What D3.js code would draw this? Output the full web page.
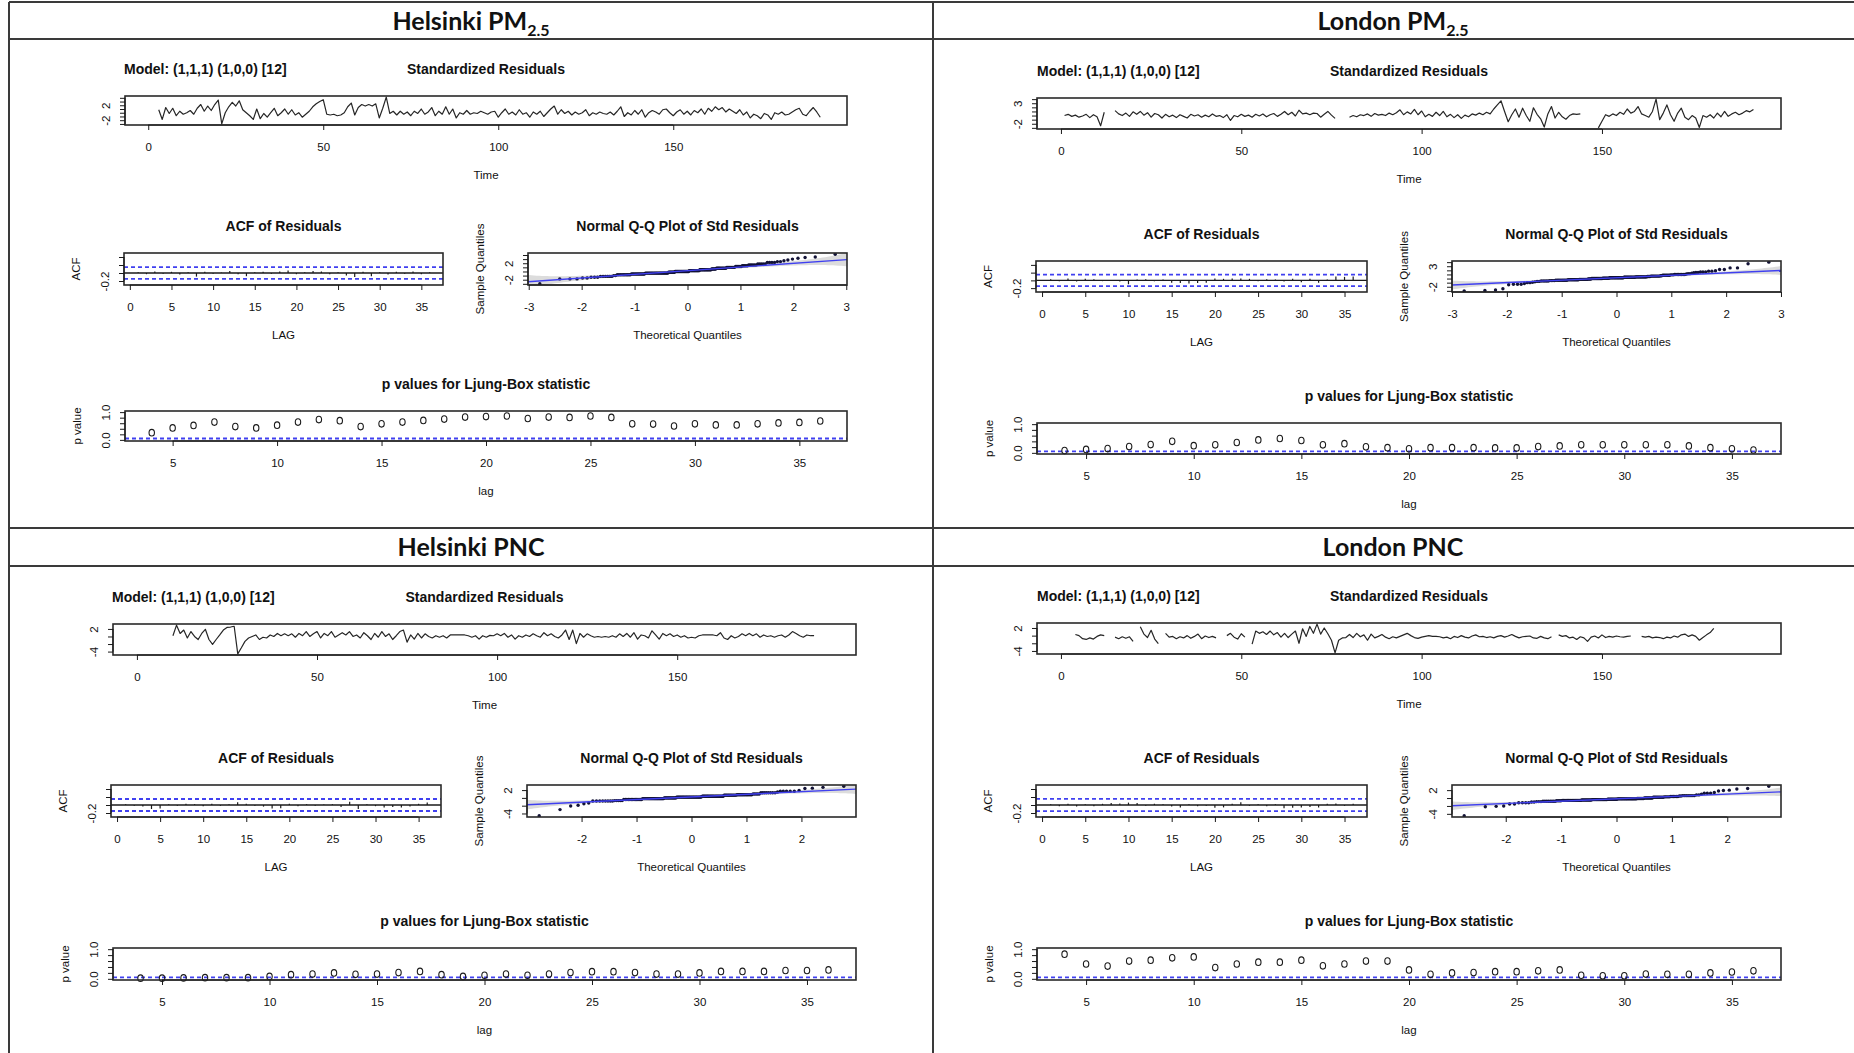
<!DOCTYPE html>
<html>
<head>
<meta charset="utf-8">
<script src="https://cdn.jsdelivr.net/npm/d3@7"></script>
<style>
  body { margin: 0; background: #fff; }
  svg text { font-family: "Liberation Sans", Arial, sans-serif; fill: #111; }
  .hdr { font-family: Lato, "Noto Sans", sans-serif; font-weight: 700; }
</style>
</head>
<body>
<svg id="chart" width="1854" height="1053"></svg>
<script>
// ---------------- data ----------------
const seriesLength = 192;

// standardized residuals, index 0 = time 1 (null = missing)
const helPM25Resid = [null, null,
  0.8, -1.8, 1.4, -0.2, 1.2, -0.8, 0.4, -0.4, 0.0, 0.6,
  -0.4, 1.2, 2.2, 0.4, 1.8, 0.6, 2.2, 3.4, -3.0, 0.0,
  1.6, 2.8, 1.8, 3.2, 0.8, 0.0, -0.8, -1.8, 1.0, -1.6,
  -0.2, -1.2, 0.0, 1.2, -0.8, 0.0, 1.0, -0.4, 0.8, -0.6,
  0.0, -1.2, -0.4, 0.4, 1.6, 2.4, 3.0, 3.5, -0.4, -0.6,
  -0.4, -0.8, -0.6, 0.0, 1.6, 2.6, -0.6, 1.4, 2.2, 1.8,
  2.2, 1.8, 2.4, -1.4, 1.2, 4.2, -0.2, 0.4, -0.6, 0.4,
  -0.4, 0.2, -0.8, 0.4, -0.2, 1.0, -0.4, 0.2, 1.4, -0.8,
  0.4, -0.4, 1.6, -0.4, 1.0, -1.4, 0.0, -0.4, 0.6, -0.4,
  0.0, -0.2, 0.4, 0.0, -0.4, 0.2, 0.4, -1.2, 0.0, 1.0,
  -0.4, 0.2, -0.6, 0.8, -0.4, 0.0, -1.2, 0.2, -0.4, 0.4,
  -1.0, 0.0, 1.0, 1.8, -0.4, 0.8, -0.2, 0.4, -0.6, 0.2,
  -0.4, 0.0, 0.8, -0.8, 0.0, -0.4, 0.2, -0.2, -0.4, 0.2,
  -0.6, 0.4, 1.6, -1.0, 0.0, -0.6, 0.6, -0.4, 0.8, -1.2,
  0.0, 0.6, 0.2, -0.4, 0.8, 1.0, 0.0, -0.8, 0.2, 0.8,
  -0.4, 0.4, -0.6, 0.6, 0.0, 1.0, -0.4, 1.2, 0.4, 1.6,
  0.8, 1.4, 0.2, 1.0, 0.4, -0.2, 0.8, -0.6, 0.2, -1.4,
  -0.4, -0.8, -1.6, -0.2, -0.6, -1.8, 0.0, -0.4, 0.2, -0.6,
  -0.4, 0.2, 0.8, 1.2, -0.4, -0.8, 0.4, 1.4, 0.2, -1.2];

const lonPM25Resid = [
  0.0, 0.3, -0.2, 0.1, -0.4, -0.1, 0.3, -0.5, 0.2, -0.3,
  -2.5, 0.8, null, null, 1.2, 0.4, 0.0, 0.6, -0.2, 0.9,
  0.3, 1.0, 0.1, 0.7, -0.4, 0.5, 0.2, -0.6, 0.3, -0.3,
  0.1, -0.5, 0.2, -0.2, -0.6, 0.3, -0.1, 0.2, -0.4, 0.1,
  -0.3, 0.4, -0.2, 0.0, -0.5, 0.2, -1.2, 0.0, -0.3, 0.3,
  -0.2, 0.1, -0.4, 0.3, -0.1, 0.4, -0.3, 0.2, 0.5, -0.2,
  0.3, 1.0, 0.2, 0.8, -0.1, 1.3, 0.4, 0.6, 0.2, 0.6,
  0.5, -0.4, 0.3, 1.0, 0.1, -0.7, null, null, null, -0.4,
  0.0, -0.3, 0.2, 0.0, 0.4, -0.2, 0.5, 0.1, 0.3, 0.0,
  0.6, 0.2, 0.7, 1.4, 0.2, 0.9, 0.4, 1.5, 0.2, 1.1,
  -0.3, 0.3, -0.2, 0.8, 0.0, 1.0, -0.3, 0.3, -0.5, 0.2,
  -0.7, 0.1, -0.3, 0.4, 0.1, 0.6, 0.2, 0.8, 0.4, 1.6,
  2.6, 3.6, 1.0, -1.5, 0.2, 1.6, -0.4, 1.8, 0.0, -1.4,
  1.9, 0.3, -0.8, -2.8, 0.4, 2.2, -0.6, 0.8, -0.3, -0.9,
  0.0, 0.4, 0.3, 0.4, null, null, null, null, -3.0, -1.4,
  0.2, -0.2, 0.4, 0.0, 0.8, 0.3, 1.6, 0.6, 1.0, 2.2,
  0.4, 0.0, -0.4, 1.0, 4.0, -1.0, 0.6, 2.6, 0.2, -1.4,
  0.6, 1.8, -0.4, -1.0, 0.0, -0.6, -2.9, 0.0, -0.4, 0.2,
  -0.6, 0.6, -0.3, 1.0, -0.2, 0.4, 0.8, 0.2, 0.6, 1.2,
  0.9, 1.5];

const helPNCResid = [null, null, null, null, null, null, null, null, null,
  0.2, 3.0, 0.8, 1.7, -0.4, 1.3, 0.0, -0.8, 0.8, 1.9,
  -0.8, -2.1, -0.8, 0.4, 1.7, 2.4, 2.5, 2.7, -4.6, -3.0,
  -1.3, -0.4, 0.0, 0.4, -0.8, -0.2, -0.4, 0.4, 0.0, 0.8,
  0.2, 0.7, 0.2, 0.7, -0.2, 0.8, 0.2, 1.3, 0.0, 0.7,
  1.3, -0.4, 0.8, 0.2, 1.3, -0.2, 0.4, 1.0, 0.4, 1.3,
  0.0, 0.4, -0.4, 1.0, 0.2, -0.8, 0.8, -0.2, 1.3, 0.0,
  0.7, -0.8, 0.2, 1.3, 1.7, -1.5, 0.4, -0.7, 0.8, -0.4,
  0.7, 0.0, -0.4, 0.2, -0.2, 0.2, -0.4, 0.4, 0.4, 0.4,
  0.4, 0.4, 0.2, -0.2, 0.2, -0.7, 0.2, -0.2, 0.3, 0.2,
  0.7, 0.2, 0.8, -0.2, 0.4, -0.7, 0.2, -0.2, 0.4, 0.0,
  0.7, 0.2, -0.2, 1.0, 0.2, 0.7, 0.0, -0.4, 0.4, 1.7,
  -0.8, 1.7, -1.9, 0.8, -0.2, 0.7, 0.2, -0.2, 0.0, -0.2,
  0.0, -0.2, 0.2, -0.2, 0.7, 0.0, 0.8, -0.2, 1.0, -0.7,
  0.4, 0.2, -0.4, 1.5, 0.4, -0.7, 0.8, 0.2, 0.7, 0.0,
  0.4, -0.2, 0.2, -0.4, -0.2, -0.4, 0.2, 0.4, 0.4, 0.4,
  0.4, 0.2, 1.0, -0.4, -0.8, 0.2, -0.4, 0.0, 0.7, 0.2,
  0.8, 0.2, 0.7, -0.2, 0.4, 0.0, 0.2, -0.2, 0.2, 0.4,
  -0.2, 0.4, 1.3, 0.8, 0.2, -0.2, 0.4, 0.2, 0.2];

const lonPNCResid = [null, null, null,
  0.3, 0.0, -0.8, -1.0, -0.6, -0.9, -0.2, 0.2, 0.0, null,
  null, -0.4, -0.8, -0.3, -0.7, -0.3, -1.5, null, 2.3, 0.4,
  -0.5, 1.4, -0.9, -2.1, null, 0.6, -0.4, -0.2, -0.8, -0.3,
  -0.6, 0.0, -0.7, -0.2, 0.4, -0.8, -0.1, -0.5, -0.2, -0.6,
  null, null, 0.0, 0.6, -0.4, -0.9, 0.5, -0.4, null, -2.2,
  1.2, 0.6, 1.0, 0.3, 1.2, 0.2, 0.8, -0.4, 0.6, -0.5,
  0.4, 1.2, -2.0, 1.8, -0.2, 2.4, 0.6, 3.0, 0.4, 2.0,
  0.5, -1.2, -4.5, -1.2, -0.6, -0.5, 0.3, -0.5, 0.6, -0.3,
  0.2, -1.2, 0.4, -0.6, -0.2, 0.3, -0.4, -0.8, -0.3, -0.6,
  -0.2, 0.2, 0.6, 0.0, -0.5, -0.7, -0.4, -0.2, 0.0, -0.2,
  -0.2, -0.3, -0.6, -0.4, -0.8, -0.2, -0.5, 0.0, -0.4, -0.6,
  -0.1, 0.2, -0.3, -0.2, -0.5, -0.3, -0.6, -0.2, 0.0, -0.4,
  -0.1, 0.3, -0.2, -0.6, -0.3, -0.2, -0.1, -0.6, -0.7, -0.2,
  -0.6, -0.8, -0.3, null, 0.2, -0.2, 0.0, -0.6, -0.4, -1.0,
  -0.3, -0.6, -1.5, -0.4, -0.1, -0.6, 0.2, -0.5, -0.2, -0.4,
  -0.1, -0.3, -0.4, -0.2, -0.1, null, null, -0.2, -0.4, -0.2,
  -0.6, -0.4, -0.5, -0.8, -0.4, -0.6, -0.1, -0.4, 0.2, 0.4,
  -0.2, 0.2, -0.2, -1.2, -0.5, 0.2, 0.8, 1.9];

// residual autocorrelations, lags 1..36
const acfLags = [1,2,3,4,5,6,7,8,9,10,11,12,13,14,15,16,17,18,19,20,21,22,23,24,25,26,27,28,29,30,31,32,33,34,35,36];
const helPM25Acf = [0.02,-0.03,0.04,-0.02,0.03,-0.04,0.02,-0.09,0.03,-0.02,0.01,0.05,-0.03,-0.08,0.02,0.03,-0.02,0.04,0.06,-0.03,0.02,0.05,0.04,-0.03,0.02,-0.06,-0.10,0.03,-0.08,0.02,-0.04,0.03,-0.02,0.04,-0.03,0.02];
const lonPM25Acf = [0.03,-0.02,0.05,-0.03,0.04,0.03,-0.02,0.01,-0.03,-0.10,0.02,0.03,-0.02,0.02,-0.06,-0.07,-0.08,-0.07,-0.06,0.05,0.04,0.05,0.05,0.04,-0.02,0.03,0.02,-0.03,0.04,-0.05,0.04,-0.06,0.02,0.10,0.09,0.10];
const helPNCAcf = [0.02,-0.02,-0.04,-0.10,-0.09,0.02,-0.02,0.03,0.02,-0.03,0.03,-0.02,0.02,0.07,0.03,-0.02,-0.04,-0.09,-0.08,0.03,-0.03,0.02,-0.02,0.01,0.02,-0.05,0.08,-0.10,0.02,-0.03,-0.06,-0.05,-0.06,-0.04,0.03,0.06];
const lonPNCAcf = [0.02,-0.03,0.03,-0.04,0.02,-0.03,0.03,0.05,0.04,0.06,0.05,-0.02,0.03,0.02,-0.04,-0.06,0.02,-0.03,-0.02,-0.07,-0.06,0.03,0.07,-0.02,0.02,-0.03,0.02,-0.08,-0.07,-0.06,-0.05,-0.06,0.03,0.04,-0.02,0.03];

// Ljung-Box p values, lags 4..36
const lbLags = [4,5,6,7,8,9,10,11,12,13,14,15,16,17,18,19,20,21,22,23,24,25,26,27,28,29,30,31,32,33,34,35,36];
const helPM25LB = [0.26,0.43,0.52,0.64,0.48,0.43,0.53,0.64,0.73,0.69,0.48,0.58,0.64,0.70,0.75,0.82,0.84,0.86,0.77,0.82,0.81,0.86,0.81,0.58,0.57,0.50,0.58,0.54,0.54,0.58,0.61,0.63,0.68];
const lonPM25LB = [0.08,0.12,0.15,0.22,0.29,0.40,0.25,0.28,0.36,0.45,0.50,0.43,0.28,0.32,0.21,0.18,0.14,0.18,0.18,0.18,0.17,0.17,0.22,0.24,0.28,0.28,0.28,0.28,0.28,0.24,0.18,0.14,0.10];
const helPNCLB = [0.02,0.02,0.03,0.04,0.04,0.04,0.08,0.14,0.16,0.20,0.15,0.16,0.21,0.25,0.14,0.08,0.12,0.16,0.12,0.16,0.21,0.24,0.24,0.21,0.16,0.16,0.20,0.25,0.25,0.25,0.28,0.28,0.30];
const lonPNCLB = [0.83,0.50,0.43,0.60,0.63,0.71,0.74,0.38,0.50,0.56,0.56,0.63,0.44,0.50,0.60,0.60,0.30,0.15,0.20,0.21,0.24,0.24,0.27,0.30,0.12,0.10,0.10,0.16,0.15,0.15,0.20,0.23,0.27];

// ticks and labels
const timeTicks = [0, 50, 100, 150];
const acfLagTicks = [0, 5, 10, 15, 20, 25, 30, 35];
const acfTicks = [-0.2, 0, 0.2, 0.4];
const acfTickLabels = ["-0.2"];
const lbLagTicks = [5, 10, 15, 20, 25, 30, 35];
const pTicks = [0, 0.2, 0.4, 0.6, 0.8, 1.0];
const pTickLabels = ["0.0", "1.0"];
const qqTicksPM = [-3, -2, -1, 0, 1, 2, 3];
const qqTicksPNC = [-2, -1, 0, 1, 2];
const residTicksPM = [-3, -2, -1, 0, 1, 2, 3, 4];
const residTicksPNC = [-4, -2, 0, 2];

const modelText = "Model: (1,1,1) (1,0,0) [12]";
const cells = [
  { place: "Helsinki", pol: "PM", sub: "2.5", resid: helPM25Resid, acf: helPM25Acf, lb: helPM25LB,
    rTicks: residTicksPM, rLabels: ["-2", "2"], qqX: qqTicksPM },
  { place: "London", pol: "PM", sub: "2.5", resid: lonPM25Resid, acf: lonPM25Acf, lb: lonPM25LB,
    rTicks: residTicksPM, rLabels: ["-2", "3"], qqX: qqTicksPM },
  { place: "Helsinki", pol: "PNC", sub: "", resid: helPNCResid, acf: helPNCAcf, lb: helPNCLB,
    rTicks: residTicksPNC, rLabels: ["-4", "2"], qqX: qqTicksPNC },
  { place: "London", pol: "PNC", sub: "", resid: lonPNCResid, acf: lonPNCAcf, lb: lonPNCLB,
    rTicks: residTicksPNC, rLabels: ["-4", "2"], qqX: qqTicksPNC }
];

// ---------------- layout ----------------
const layouts = [
  { cx: 471,  titleY: 21,  modelX: 124,  res: [125, 847, 96, 125],   acf: [124, 443, 253, 285],   qq: [528, 847, 253, 285],   lb: [125, 847, 411, 441] },
  { cx: 1393, titleY: 21,  modelX: 1037, res: [1037, 1781, 98, 129], acf: [1036, 1367, 261, 292], qq: [1452, 1781, 261, 292], lb: [1037, 1781, 423, 454] },
  { cx: 471,  titleY: 547, modelX: 112,  res: [113, 856, 624, 655],  acf: [111, 441, 785, 817],   qq: [527, 856, 785, 817],   lb: [113, 856, 948, 980] },
  { cx: 1393, titleY: 547, modelX: 1037, res: [1037, 1781, 623, 654], acf: [1036, 1367, 785, 817], qq: [1452, 1781, 785, 817], lb: [1037, 1781, 948, 980] }
];

const svg = d3.select("#chart");
const INK = "#1a1a1a", BLUE = "#4040f0";
const FONT = "Liberation Sans, Arial, sans-serif";
const fmtInt = d3.format("d"), fmtDec = d3.format(".1f");
const BAND_Z = 3; // critical value of the shaded Q-Q envelope

// R-style range padding (4% each side)
const pad = ([a, b]) => [a - (b - a) * 0.04, b + (b - a) * 0.04];

// inverse standard normal (Acklam)
function qnorm(p) {
  const a = [-3.969683028665376e+01, 2.209460984245205e+02, -2.759285104469687e+02, 1.383577518672690e+02, -3.066479806614716e+01, 2.506628277459239e+00];
  const b = [-5.447609879822406e+01, 1.615858368580409e+02, -1.556989798598866e+02, 6.680131188771972e+01, -1.328068155288572e+01];
  const c = [-7.784894002430293e-03, -3.223964580411365e-01, -2.400758277161838e+00, -2.549732539343734e+00, 4.374664141464968e+00, 2.938163982698783e+00];
  const d = [7.784695709041462e-03, 3.224671290700398e-01, 2.445134137142996e+00, 3.754408661907416e+00];
  const pl = 0.02425;
  let q, r;
  if (p < pl) {
    q = Math.sqrt(-2 * Math.log(p));
    return (((((c[0]*q+c[1])*q+c[2])*q+c[3])*q+c[4])*q+c[5]) / ((((d[0]*q+d[1])*q+d[2])*q+d[3])*q+1);
  }
  if (p > 1 - pl) {
    q = Math.sqrt(-2 * Math.log(1 - p));
    return -(((((c[0]*q+c[1])*q+c[2])*q+c[3])*q+c[4])*q+c[5]) / ((((d[0]*q+d[1])*q+d[2])*q+d[3])*q+1);
  }
  q = p - 0.5; r = q * q;
  return (((((a[0]*r+a[1])*r+a[2])*r+a[3])*r+a[4])*r+a[5])*q / (((((b[0]*r+b[1])*r+b[2])*r+b[3])*r+b[4])*r+1);
}
const dnorm = z => Math.exp(-z * z / 2) / Math.sqrt(2 * Math.PI);
// standard normal CDF via erf (Abramowitz & Stegun 7.1.26)
function pnorm(z) {
  const x = Math.abs(z) / Math.SQRT2, t = 1 / (1 + 0.3275911 * x);
  const erf = 1 - (((((1.061405429 * t - 1.453152027) * t) + 1.421413741) * t - 0.284496736) * t + 0.254829592) * t * Math.exp(-x * x);
  return z >= 0 ? 0.5 * (1 + erf) : 0.5 * (1 - erf);
}

// ---------------- helpers ----------------
let clipId = 0;
function frame(g, box) {
  const [l, r, t, b] = box;
  const id = "clip" + (clipId++);
  g.append("clipPath").attr("id", id).append("rect").attr("x", l).attr("y", t).attr("width", r - l).attr("height", b - t);
  return id;
}
function border(g, box) {
  const [l, r, t, b] = box;
  g.append("rect").attr("x", l).attr("y", t).attr("width", r - l).attr("height", b - t)
    .attr("fill", "none").attr("stroke", "#2a2a2a").attr("stroke-width", 1.6);
}
function styleAxis(ax) {
  ax.attr("font-family", FONT).attr("font-size", 11.5);
  ax.selectAll("line").attr("stroke", INK);
  ax.select(".domain").attr("stroke", INK);
  ax.selectAll("text").attr("fill", INK);
}
function xAxis(g, scale, ticks, yPos) {
  const ax = g.append("g").attr("transform", `translate(0,${yPos})`)
    .call(d3.axisBottom(scale).tickValues(ticks).tickSize(5).tickSizeOuter(0).tickFormat(d => String(d)));
  ax.select(".domain").attr("d", `M${scale(ticks[0])},0H${scale(ticks[ticks.length - 1])}`);
  ax.selectAll("text").attr("y", 22).attr("dy", "0.35em");
  styleAxis(ax);
}
function yAxis(g, scale, ticks, xPos, labels, fmt) {
  const ax = g.append("g").attr("transform", `translate(${xPos},0)`)
    .call(d3.axisLeft(scale).tickValues(ticks).tickSize(5).tickSizeOuter(0)
      .tickFormat(d => { const s = fmt(d).replace("\u2212", "-"); return labels.includes(s) ? s : ""; }));
  ax.select(".domain").attr("d", `M0,${scale(ticks[0])}V${scale(ticks[ticks.length - 1])}`);
  ax.selectAll("text").attr("x", 0).attr("dy", "0.35em").attr("text-anchor", "middle")
    .attr("transform", "translate(-19,0) rotate(-90)");
  styleAxis(ax);
}
function mainTitle(g, box, text) {
  g.append("text").attr("x", (box[0] + box[1]) / 2).attr("y", box[2] - 27).attr("dy", "0.35em")
    .attr("text-anchor", "middle").attr("font-weight", 700).attr("font-size", 14).text(text);
}
function xTitle(g, box, text) {
  g.append("text").attr("x", (box[0] + box[1]) / 2).attr("y", box[3] + 50).attr("dy", "0.35em")
    .attr("text-anchor", "middle").attr("font-size", 11.5).text(text);
}
function yTitle(g, box, text) {
  g.append("text").attr("transform", `translate(${box[0] - 48},${(box[2] + box[3]) / 2}) rotate(-90)`)
    .attr("dy", "0.35em").attr("text-anchor", "middle").attr("font-size", 11.5).text(text);
}

// ---------------- draw ----------------
cells.forEach((cfg, k) => {
  const L = layouts[k];
  const g = svg.append("g");

  // header
  const h = g.append("text").attr("class", "hdr").attr("x", L.cx).attr("y", L.titleY)
    .attr("dy", "0.36em").attr("text-anchor", "middle").attr("font-size", 25);
  h.append("tspan").text(cfg.place + " " + cfg.pol);
  if (cfg.sub) h.append("tspan").attr("font-size", 16).attr("dy", 6).text(cfg.sub);

  const valid = cfg.resid.filter(v => v != null);
  const n = valid.length;
  const yDom = pad(d3.extent(valid));

  // --- standardized residuals ---
  const R = L.res;
  const xr = d3.scaleLinear().domain(pad([1, seriesLength])).range([R[0], R[1]]);
  const yr = d3.scaleLinear().domain(yDom).range([R[3], R[2]]);
  g.append("text").attr("x", L.modelX).attr("y", R[2] - 27).attr("dy", "0.35em")
    .attr("font-weight", 700).attr("font-size", 14).text(modelText);
  mainTitle(g, R, "Standardized Residuals");
  const line = d3.line().defined(d => d.v != null).x(d => xr(d.t)).y(d => yr(d.v));
  g.append("path").datum(cfg.resid.map((v, i) => ({ t: i + 1, v })))
    .attr("d", line).attr("fill", "none").attr("stroke", "#262626").attr("stroke-width", 1.2)
    .attr("stroke-linejoin", "round");
  border(g, R);
  xAxis(g, xr, timeTicks, R[3]);
  yAxis(g, yr, cfg.rTicks, R[0], cfg.rLabels, fmtInt);
  xTitle(g, R, "Time");

  // --- ACF of residuals ---
  const A = L.acf;
  const xa = d3.scaleLinear().domain([-0.7, 37.6]).range([A[0], A[1]]);
  const ya = d3.scaleLinear().domain([-0.3, 0.5]).range([A[3], A[2]]);
  const U = 2 / Math.sqrt(n);
  mainTitle(g, A, "ACF of Residuals");
  g.append("line").attr("x1", A[0]).attr("x2", A[1]).attr("y1", ya(0)).attr("y2", ya(0))
    .attr("stroke", INK).attr("stroke-width", 1.3);
  g.selectAll(null).data(acfLags).join("line")
    .attr("x1", (d) => xa(d)).attr("x2", (d) => xa(d))
    .attr("y1", ya(0)).attr("y2", (d, i) => ya(cfg.acf[i]))
    .attr("stroke", INK).attr("stroke-width", 1.2);
  [U, -U].forEach(u => g.append("line").attr("x1", A[0]).attr("x2", A[1]).attr("y1", ya(u)).attr("y2", ya(u))
    .attr("stroke", BLUE).attr("stroke-width", 1.8).attr("stroke-dasharray", "4,3"));
  border(g, A);
  xAxis(g, xa, acfLagTicks, A[3]);
  yAxis(g, ya, acfTicks, A[0], acfTickLabels, fmtDec);
  xTitle(g, A, "LAG");
  yTitle(g, A, "ACF");

  // --- normal Q-Q plot ---
  const Q = L.qq;
  const sorted = valid.slice().sort(d3.ascending);
  const theo = sorted.map((v, i) => qnorm((i + 0.5) / n));
  const qmax = d3.max(theo);
  const xq = d3.scaleLinear().domain([-qmax * 1.08, qmax * 1.08]).range([Q[0], Q[1]]);
  const yq = d3.scaleLinear().domain(yDom).range([Q[3], Q[2]]);
  const q1 = d3.quantile(sorted, 0.25), q3 = d3.quantile(sorted, 0.75);
  const slope = (q3 - q1) / (qnorm(0.75) - qnorm(0.25));
  const icpt = q1 - slope * qnorm(0.25);
  // pointwise envelope around the reference line, across the whole panel width
  const xd = xq.domain();
  const band = d3.ticks(xd[0], xd[1], 120).concat([xd[0], xd[1]]).sort(d3.ascending).map(z => {
    const p = pnorm(z), fit = icpt + slope * z;
    const se = slope / dnorm(z) * Math.sqrt(p * (1 - p) / n);
    return { z, lo: fit - BAND_Z * se, hi: fit + BAND_Z * se };
  });
  const clip = frame(g, Q);
  mainTitle(g, Q, "Normal Q-Q Plot of Std Residuals");
  const pg = g.append("g").attr("clip-path", `url(#${clip})`);
  pg.append("path").datum(band)
    .attr("d", d3.area().x(d => xq(d.z)).y0(d => yq(d.lo)).y1(d => yq(d.hi)))
    .attr("fill", "#dcdcdc");
  pg.selectAll(null).data(sorted).join("circle")
    .attr("cx", (d, i) => xq(theo[i])).attr("cy", d => yq(d)).attr("r", 1.7)
    .attr("fill", "#121236");
  pg.append("line").attr("x1", xq(xd[0])).attr("x2", xq(xd[1]))
    .attr("y1", yq(icpt + slope * xd[0])).attr("y2", yq(icpt + slope * xd[1]))
    .attr("stroke", BLUE).attr("stroke-width", 1.4);
  border(g, Q);
  xAxis(g, xq, cfg.qqX, Q[3]);
  yAxis(g, yq, cfg.rTicks, Q[0], cfg.rLabels, fmtInt);
  xTitle(g, Q, "Theoretical Quantiles");
  yTitle(g, Q, "Sample Quantiles");

  // --- Ljung-Box p values ---
  const B = L.lb;
  const xb = d3.scaleLinear().domain(pad([lbLags[0], lbLags[lbLags.length - 1]])).range([B[0], B[1]]);
  const yb = d3.scaleLinear().domain(pad([0, 1])).range([B[3], B[2]]);
  mainTitle(g, B, "p values for Ljung-Box statistic");
  g.append("line").attr("x1", B[0]).attr("x2", B[1]).attr("y1", yb(0.05)).attr("y2", yb(0.05))
    .attr("stroke", BLUE).attr("stroke-width", 1.8).attr("stroke-dasharray", "4,3");
  g.selectAll(null).data(cfg.lb).join("ellipse")
    .attr("cx", (d, i) => xb(lbLags[i])).attr("cy", d => yb(d)).attr("rx", 2.7).attr("ry", 3.3)
    .attr("fill", "none").attr("stroke", INK).attr("stroke-width", 1.1);
  border(g, B);
  xAxis(g, xb, lbLagTicks, B[3]);
  yAxis(g, yb, pTicks, B[0], pTickLabels, fmtDec);
  xTitle(g, B, "lag");
  yTitle(g, B, "p value");
});

// ---------------- table grid ----------------
const grid = svg.append("g").attr("stroke", "#3a3a3a").attr("stroke-width", 2);
[2, 39, 528, 566].forEach(y => grid.append("line").attr("x1", 9).attr("x2", 1854).attr("y1", y).attr("y2", y));
[9, 933].forEach(x => grid.append("line").attr("x1", x).attr("x2", x).attr("y1", 2).attr("y2", 1053));
</script>
</body>
</html>
